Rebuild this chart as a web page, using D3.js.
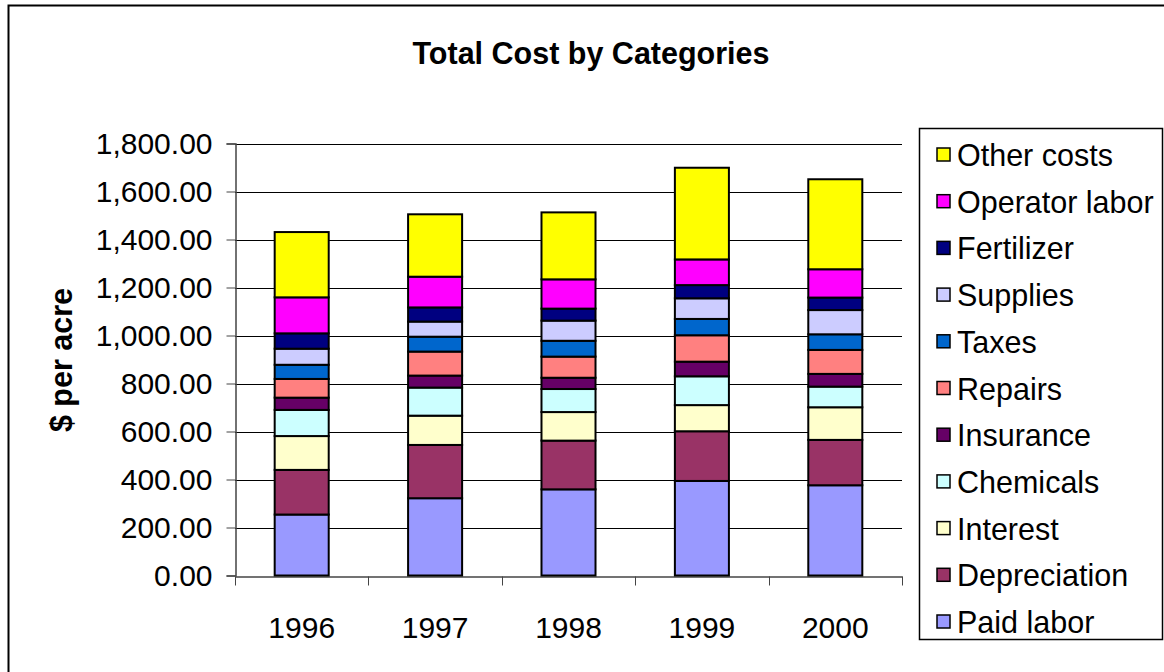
<!DOCTYPE html>
<html>
<head>
<meta charset="utf-8">
<script src="https://cdn.jsdelivr.net/npm/d3@7"></script>
<style>
  body { margin: 0; background: #fff; }
  svg { display: block; font-family: "Liberation Sans", Arial, sans-serif; }
</style>
</head>
<body>
<svg id="chart" width="1164" height="672"></svg>
<script>
// years on the x axis
var years = ["1996", "1997", "1998", "1999", "2000"];

// $ per acre, one array per cost category
var paidLabor     = [254, 322, 359, 394, 376];
var depreciation  = [186, 222, 203, 207, 189];
var interest      = [141, 122, 119, 109, 136];
var chemicals     = [109, 117,  96, 120,  86];
var insurance     = [ 51,  50,  47,  61,  53];
var repairs       = [ 78, 100,  88, 110, 100];
var taxes         = [ 59,  62,  66,  68,  65];
var supplies      = [ 67,  63,  84,  86, 101];
var fertilizer    = [ 64,  59,  50,  55,  52];
var operatorLabor = [150, 128, 122, 107, 118];
var otherCosts    = [272, 260, 279, 382, 375];

var yTicks = [0, 200, 400, 600, 800, 1000, 1200, 1400, 1600, 1800];

// stacking order, bottom to top
var series = [
    {name: "Paid labor",     values: paidLabor,     color: "#9999FF"},
    {name: "Depreciation",   values: depreciation,  color: "#993366"},
    {name: "Interest",       values: interest,      color: "#FFFFCC"},
    {name: "Chemicals",      values: chemicals,     color: "#CCFFFF"},
    {name: "Insurance",      values: insurance,     color: "#660066"},
    {name: "Repairs",        values: repairs,       color: "#FF8080"},
    {name: "Taxes",          values: taxes,         color: "#0066CC"},
    {name: "Supplies",       values: supplies,      color: "#CCCCFF"},
    {name: "Fertilizer",     values: fertilizer,    color: "#000080"},
    {name: "Operator labor", values: operatorLabor, color: "#FF00FF"},
    {name: "Other costs",    values: otherCosts,    color: "#FFFF00"}
];

var svg = d3.select("#chart");

// chart area frame (right/bottom run off the picture)
svg.append("rect")
    .attr("x", 8.5).attr("y", 5.5)
    .attr("width", 1170).attr("height", 700)
    .attr("fill", "none")
    .attr("stroke", "#000")
    .attr("stroke-width", 2);

// table for d3.stack
var table = years.map(function (y, i) {
    var row = {year: y};
    series.forEach(function (s) { row[s.name] = s.values[i]; });
    return row;
});
var keys = series.map(function (s) { return s.name; });
var colorOf = d3.scaleOrdinal().domain(keys).range(series.map(function (s) { return s.color; }));
var stacked = d3.stack().keys(keys)(table);

var x = d3.scaleBand()
    .domain(years)
    .range([235, 902])
    .paddingInner(0.595)
    .paddingOuter(0.2975);

var y = d3.scaleLinear()
    .domain([0, 1800])
    .range([575.5, 143.5]);

// gridlines
svg.append("g")
    .selectAll("line")
    .data(yTicks.slice(1))
    .enter().append("line")
    .attr("x1", 235).attr("x2", 902)
    .attr("y1", function (d) { return Math.round(y(d)) + 0.5; })
    .attr("y2", function (d) { return Math.round(y(d)) + 0.5; })
    .attr("stroke", "#000")
    .attr("stroke-width", 1);

// y axis
var yAxis = svg.append("g")
    .attr("transform", "translate(235.5,0)")
    .call(d3.axisLeft(y).tickValues(yTicks).tickSize(9).tickPadding(14).tickFormat(d3.format(",.2f")));
yAxis.select(".domain").attr("stroke", "#444").attr("stroke-width", 1.5);
yAxis.selectAll(".tick line").attr("stroke", "#444");
yAxis.selectAll("text")
    .attr("font-family", "Liberation Sans, Arial, sans-serif")
    .attr("font-size", 30)
    .attr("fill", "#000");

// x axis
var xAxis = svg.append("g")
    .attr("transform", "translate(0," + (Math.round(y(0)) + 0.5) + ")")
    .call(d3.axisBottom(x).tickSize(0).tickPadding(40));
xAxis.select(".domain").attr("stroke", "#444").attr("stroke-width", 1.5);
xAxis.selectAll("text")
    .attr("font-family", "Liberation Sans, Arial, sans-serif")
    .attr("font-size", 30)
    .attr("fill", "#000");
// category divider ticks
var step = x.step();
xAxis.append("g").selectAll("line")
    .data(d3.range(years.length + 1))
    .enter().append("line")
    .attr("x1", function (i) { return Math.round(235 + i * step) + 0.5; })
    .attr("x2", function (i) { return Math.round(235 + i * step) + 0.5; })
    .attr("y1", 0).attr("y2", 9)
    .attr("stroke", "#444");

// stacked bars
svg.append("g")
    .selectAll("g")
    .data(stacked)
    .enter().append("g")
    .attr("fill", function (d) { return colorOf(d.key); })
    .selectAll("rect")
    .data(function (d) { return d; })
    .enter().append("rect")
    .attr("x", function (d) { return x(d.data.year); })
    .attr("y", function (d) { return y(d[1]); })
    .attr("width", x.bandwidth())
    .attr("height", function (d) { return y(d[0]) - y(d[1]); })
    .attr("stroke", "#000")
    .attr("stroke-width", 2);

// title
svg.append("text")
    .attr("x", 591).attr("y", 64)
    .attr("text-anchor", "middle")
    .attr("font-size", 30.5)
    .attr("font-weight", "bold")
    .text("Total Cost by Categories");

// y axis title
svg.append("text")
    .attr("transform", "translate(72,360) rotate(-90)")
    .attr("text-anchor", "middle")
    .attr("font-size", 30.5)
    .attr("font-weight", "bold")
    .text("$ per acre");

// legend, top entry is the top of the stack
var legend = svg.append("g");
legend.append("rect")
    .attr("x", 919.5).attr("y", 128.5)
    .attr("width", 243).attr("height", 511)
    .attr("fill", "#fff")
    .attr("stroke", "#000")
    .attr("stroke-width", 1.5);

var items = legend.selectAll("g.item")
    .data(series.slice().reverse())
    .enter().append("g")
    .attr("class", "item")
    .attr("transform", function (d, i) { return "translate(0," + (155 + i * 46.7) + ")"; });
items.append("rect")
    .attr("x", 937).attr("y", -7)
    .attr("width", 13).attr("height", 13)
    .attr("fill", function (d) { return d.color; })
    .attr("stroke", "#000")
    .attr("stroke-width", 1.5);
items.append("text")
    .attr("x", 957).attr("y", 11)
    .attr("font-size", 30.5)
    .text(function (d) { return d.name; });
</script>
</body>
</html>
